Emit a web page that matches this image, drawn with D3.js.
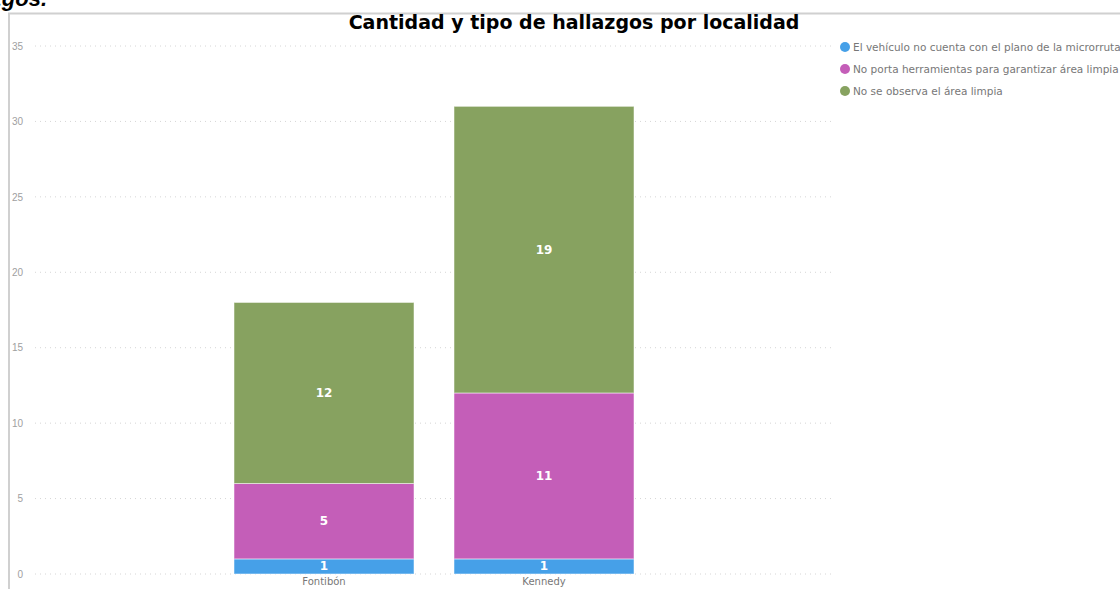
<!DOCTYPE html>
<html>
<head>
<meta charset="utf-8">
<script src="https://cdn.jsdelivr.net/npm/d3@7"></script>
<style>
  body { margin: 0; background: #fff; overflow: hidden; }
  svg { display: block; font-family: "Liberation Sans", Arial, sans-serif; }
</style>
</head>
<body>
<svg id="chart" width="1120" height="589"></svg>
<script>
const localidades = ['Fontibón', 'Kennedy'];
const tipos = [
  'El vehículo no cuenta con el plano de la microrruta',
  'No porta herramientas para garantizar área limpia',
  'No se observa el área limpia'
];
const sinPlano       = [1, 1];
const sinHerramienta = [5, 11];
const sinAreaLimpia  = [12, 19];
const yTicks = [0, 5, 10, 15, 20, 25, 30, 35];
const colores = ['#46a0e8', '#c45eb8', '#87a260'];

const svg = d3.select('#chart');
const margin = { top: 46, bottom: 15, left: 35, right: 285 };
const H = 589, W = 1120;

// clipped text from the surrounding document
svg.append('text')
  .attr('x', 47).attr('y', 6)
  .attr('text-anchor', 'end')
  .attr('font-size', 22).attr('font-weight', 'bold').attr('font-style', 'italic')
  .attr('fill', '#000')
  .text('hallazgos.');

// frame
svg.append('path')
  .attr('d', `M9,${H} V13.5 H${W}`)
  .attr('fill', 'none').attr('stroke', '#d0d0d0').attr('stroke-width', 2);

const y = d3.scaleLinear().domain([0, 35]).range([H - margin.bottom, margin.top]);
const x = d3.scaleBand().domain(localidades).range([214, 654]).paddingInner(40 / 220).paddingOuter(20 / 220);

// grid
svg.append('g')
  .selectAll('line').data(yTicks).join('line')
    .attr('x1', margin.left).attr('x2', W - margin.right)
    .attr('y1', d => y(d)).attr('y2', d => y(d))
    .attr('stroke', '#d6d6d6').attr('stroke-width', 1).attr('stroke-dasharray', '1,4');

const yAxis = svg.append('g')
  .attr('transform', `translate(23,0)`)
  .call(d3.axisLeft(y).tickValues(yTicks).tickSize(0).tickPadding(0));
yAxis.select('.domain').remove();
yAxis.selectAll('text').attr('fill', '#a0a0a0').attr('font-size', 10).attr('text-anchor', 'end')
  .attr('font-family', '"Liberation Sans", Arial, sans-serif');

const xAxis = svg.append('g')
  .attr('transform', `translate(0,${y(0)})`)
  .call(d3.axisBottom(x).tickSize(0).tickPadding(4));
xAxis.select('.domain').remove();
xAxis.selectAll('text').attr('fill', '#777').attr('font-size', 10)
  .attr('font-family', '"DejaVu Sans", sans-serif');

// stacked bars
const rows = localidades.map((loc, i) => ({ loc, a: sinPlano[i], b: sinHerramienta[i], c: sinAreaLimpia[i] }));
const stack = d3.stack().keys(['a', 'b', 'c'])(rows);

const layers = svg.append('g').selectAll('g').data(stack).join('g')
  .attr('fill', (d, i) => colores[i]);

layers.selectAll('rect').data(d => d).join('rect')
  .attr('x', d => x(d.data.loc))
  .attr('width', x.bandwidth())
  .attr('y', d => y(d[1]))
  .attr('height', d => y(d[0]) - y(d[1]))
  .attr('stroke', '#fff').attr('stroke-opacity', 0.5).attr('stroke-width', 1);

layers.selectAll('text').data(d => d).join('text')
  .attr('x', d => x(d.data.loc) + x.bandwidth() / 2)
  .attr('y', d => (y(d[0]) + y(d[1])) / 2 + 4)
  .attr('text-anchor', 'middle')
  .attr('fill', '#fff').attr('font-size', 12).attr('font-weight', 'bold')
  .attr('font-family', '"DejaVu Sans", sans-serif')
  .text(d => d[1] - d[0]);

// title
svg.append('text')
  .attr('x', 574).attr('y', 29)
  .attr('text-anchor', 'middle')
  .attr('font-size', 19).attr('font-weight', 'bold').attr('fill', '#000')
  .attr('font-family', '"DejaVu Sans", sans-serif')
  .text('Cantidad y tipo de hallazgos por localidad');

// legend
const legend = svg.append('g').selectAll('g').data(tipos).join('g')
  .attr('transform', (d, i) => `translate(845,${47 + i * 22})`);
legend.append('circle').attr('r', 5).attr('fill', (d, i) => colores[i]);
legend.append('text')
  .attr('x', 8).attr('y', 3.5)
  .attr('font-size', 10.5).attr('fill', '#777')
  .attr('font-family', '"DejaVu Sans", sans-serif')
  .text(d => d);
</script>
</body>
</html>
